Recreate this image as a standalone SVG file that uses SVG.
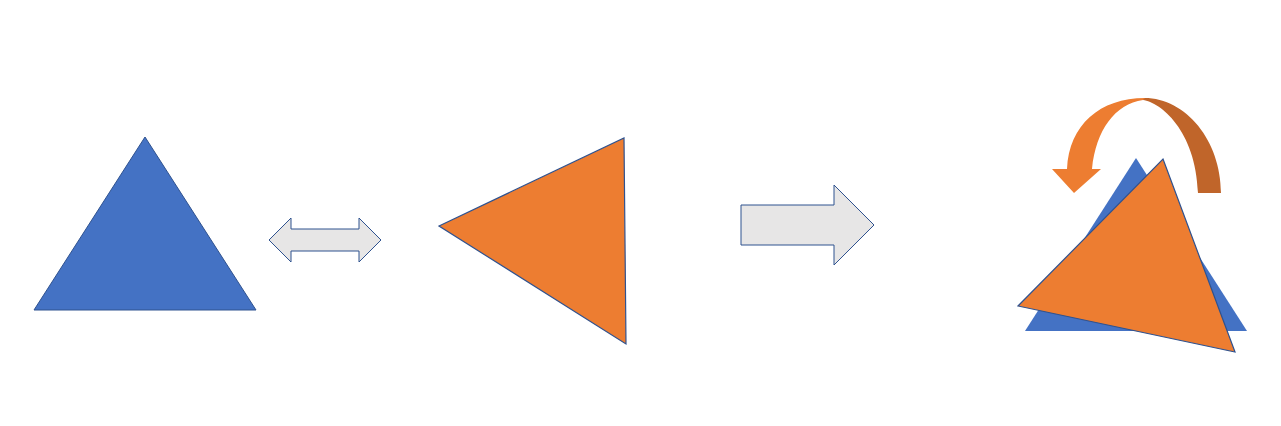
<svg xmlns="http://www.w3.org/2000/svg" width="1281" height="426" viewBox="0 0 1281 426">
<style>
.blue{fill:#4472C4;stroke:#2F528F;stroke-width:1}
.orange{fill:#ED7D31;stroke:#2F528F;stroke-width:1.2}
.arrow{fill:#E7E6E6;stroke:#2F528F;stroke-width:1}
</style>
<rect width="1281" height="426" fill="#FFFFFF"/>
<g id="triangle-blue"><polygon class="blue" points="145,137 256,310 34,310"/></g>
<g id="triangle-orange"><polygon class="orange" points="439,226 624,138 626,344"/></g>
<g id="connectors">
<polygon class="arrow" stroke-width="0.8" points="269,240 291,218 291,229 359,229 359,218 381,240 359,262 359,251 291,251 291,262"/>
<polygon class="arrow" points="741,205 834,205 834,185 874,225 834,265 834,245 741,245"/>
</g>
<g id="rotated-pair">
<polygon fill="#4472C4" points="1136,158 1247,331 1025,331"/>
<polygon class="orange" points="1163,159 1235,352 1018,306"/>
<path fill="#C0652A" d="M1143,98 C1185,97 1221,140 1221,193 L1198,193 C1196,130 1160,102 1143,100 Z"/>
<path fill="#ED7D31" d="M1145,98 C1100,98 1069,125 1067,169 L1052,169 L1074,193 L1101,169 L1092,169 C1096,130 1115,104 1143,100 Z"/>
</g>
</svg>
